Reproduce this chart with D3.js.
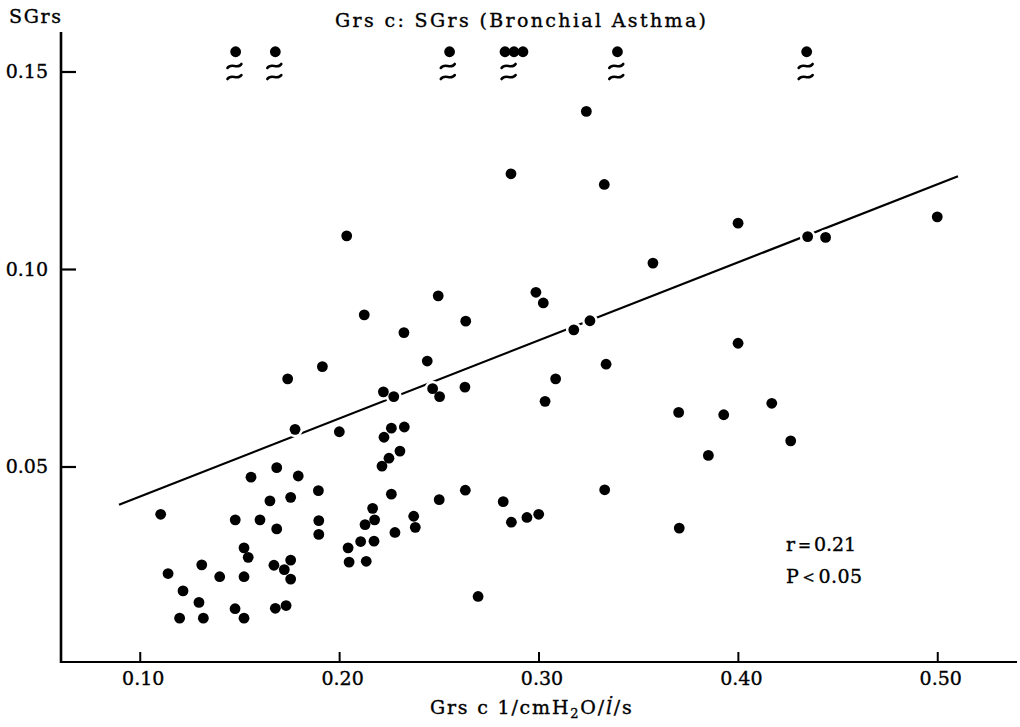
<!DOCTYPE html>
<html>
<head>
<meta charset="utf-8">
<script src="https://cdn.jsdelivr.net/npm/d3@7"></script>
<style>
  body { margin: 0; background: #fff; }
  svg text { font-family: "DejaVu Serif", serif; fill: #000; stroke: #000; stroke-width: 0.35px; }
</style>
</head>
<body>
<div id="chart"></div>
<script>
// Grs c (x) against SGrs (y), bronchial asthma
const grsc = [0.1105, 0.1142, 0.1217, 0.1200, 0.1297, 0.1311, 0.1319, 0.1401, 0.1479, 0.1478,
  0.1523, 0.1544, 0.1523, 0.1523, 0.1558, 0.1603, 0.1653, 0.1687, 0.1687, 0.1673,
  0.1680, 0.1734, 0.1725, 0.1757, 0.1757, 0.1757, 0.1795, 0.1779, 0.1742, 0.1916,
  0.2038, 0.2126, 0.2325, 0.2442, 0.2497, 0.2001, 0.1896, 0.1898, 0.1898, 0.2222,
  0.2274, 0.2262, 0.2327, 0.2225, 0.2305, 0.2250, 0.2215, 0.2262, 0.2168, 0.2178,
  0.2130, 0.2374, 0.2382, 0.2280, 0.2108, 0.2175, 0.2045, 0.2050, 0.2136, 0.2469,
  0.2504, 0.2631, 0.2502, 0.2633, 0.2697, 0.2823, 0.2864, 0.2942, 0.3001, 0.2635,
  0.2987, 0.3024, 0.3177, 0.3258, 0.3240, 0.2862, 0.3330, 0.3574, 0.3339, 0.3086,
  0.3033, 0.3332, 0.3706, 0.3703, 0.3929, 0.4170, 0.4265, 0.3852, 0.4001, 0.4001,
  0.4350, 0.4440, 0.5000];
const sgrs = [0.0379, 0.0229, 0.0185, 0.0116, 0.0156, 0.0251, 0.0116, 0.0221, 0.0365, 0.0140,
  0.0294, 0.0270, 0.0221, 0.0116, 0.0473, 0.0365, 0.0413, 0.0497, 0.0342, 0.0250,
  0.0141, 0.0148, 0.0239, 0.0263, 0.0215, 0.0422, 0.0476, 0.0594, 0.0722, 0.0753,
  0.1084, 0.0884, 0.0839, 0.0767, 0.0932, 0.0588, 0.0439, 0.0363, 0.0328, 0.0689,
  0.0677, 0.0597, 0.0600, 0.0574, 0.0539, 0.0521, 0.0501, 0.0430, 0.0394, 0.0365,
  0.0353, 0.0374, 0.0346, 0.0333, 0.0310, 0.0311, 0.0294, 0.0258, 0.0260, 0.0697,
  0.0677, 0.0701, 0.0416, 0.0440, 0.0171, 0.0411, 0.0359, 0.0371, 0.0379, 0.0868,
  0.0941, 0.0914, 0.0846, 0.0869, 0.1399, 0.1241, 0.1214, 0.1015, 0.0759, 0.0722,
  0.0665, 0.0441, 0.0344, 0.0637, 0.0631, 0.0660, 0.0565, 0.0528, 0.0812, 0.1116,
  0.1082, 0.1080, 0.1132];

// points above 0.15 (plotted on top of the break marks)
const offscaleX = [0.1481, 0.1680, 0.2554, 0.2832, 0.2877, 0.2922, 0.3396, 0.4345];
const breakX = [0.1475, 0.1675, 0.2545, 0.2850, 0.3390, 0.4340];

// regression line ends
const fitX = [0.0896, 0.5104];
const fitY = [0.0403, 0.1235];

const xTicks = [0.10, 0.20, 0.30, 0.40, 0.50];
const yTicks = [0.05, 0.10, 0.15];

const chartTitle = "Grs c: SGrs (Bronchial Asthma)";
const yTitle = "SGrs";
const statLines = ["r\uFF1D0.21", "P\uFF1C0.05"];

class ScatterChart {
  constructor(_config) {
    this.config = {
      parentElement: _config.parentElement,
      containerWidth: _config.containerWidth,
      containerHeight: _config.containerHeight,
      axisY: 662,
      dotRadius: 5.4
    };
    this.initVis();
  }

  initVis() {
    let vis = this;

    vis.svg = d3.select(vis.config.parentElement)
      .append("svg")
      .attr("width", vis.config.containerWidth)
      .attr("height", vis.config.containerHeight);

    vis.x = d3.scaleLinear().domain([0.06, 0.54]).range([60, 1017]);
    vis.y = d3.scaleLinear().domain([0, 0.16]).range([664, 32]);

    // axis lines
    vis.svg.append("line")
      .attr("x1", vis.x(0.06) + 1).attr("x2", vis.x(0.06) + 1)
      .attr("y1", vis.y(0.16)).attr("y2", vis.config.axisY + 1)
      .attr("stroke", "#000").attr("stroke-width", 2.6);
    vis.svg.append("line")
      .attr("x1", vis.x(0.06)).attr("x2", vis.x(0.54))
      .attr("y1", vis.config.axisY).attr("y2", vis.config.axisY)
      .attr("stroke", "#000").attr("stroke-width", 2.2);

    const xAxis = d3.axisBottom(vis.x)
      .tickValues(xTicks)
      .tickFormat(d3.format(".2f"))
      .tickSize(-10)
      .tickPadding(10);
    const gx = vis.svg.append("g")
      .attr("transform", `translate(0,${vis.config.axisY})`)
      .call(xAxis);
    gx.select(".domain").remove();
    gx.selectAll(".tick line").attr("stroke", "#000").attr("stroke-width", 2);
    gx.selectAll(".tick text")
      .attr("dx", 3)
      .attr("font-size", 19)
      .attr("font-family", "DejaVu Serif")
      .attr("fill", "#000");

    const yAxis = d3.axisLeft(vis.y)
      .tickValues(yTicks)
      .tickFormat(d3.format(".2f"))
      .tickSize(-15)
      .tickPadding(13);
    const gy = vis.svg.append("g")
      .attr("transform", `translate(${vis.x(0.06) + 1},0)`)
      .call(yAxis);
    gy.select(".domain").remove();
    gy.selectAll(".tick line").attr("stroke", "#000").attr("stroke-width", 2.2);
    gy.selectAll(".tick text")
      .attr("font-size", 19)
      .attr("font-family", "DejaVu Serif")
      .attr("fill", "#000");

    // titles
    vis.svg.append("text")
      .attr("x", 335).attr("y", 27)
      .attr("font-size", 19)
      .attr("textLength", 371).attr("lengthAdjust", "spacing")
      .text(chartTitle);

    vis.svg.append("text")
      .attr("x", 9).attr("y", 23)
      .attr("font-size", 19)
      .attr("textLength", 52).attr("lengthAdjust", "spacing")
      .text(yTitle);

    const xt = vis.svg.append("text")
      .attr("x", 430).attr("y", 714)
      .attr("font-size", 19)
      .attr("letter-spacing", 1.8);
    xt.append("tspan").text("Grs c 1/cmH");
    xt.append("tspan").attr("font-size", 13).attr("dy", 4).text("2");
    xt.append("tspan").attr("dy", -4).text("O/");
    xt.append("tspan").attr("font-style", "italic").text("l\u0307");
    xt.append("tspan").text("/s");

    vis.svg.selectAll(".stat")
      .data(statLines)
      .join("text")
      .attr("class", "stat")
      .attr("x", 786)
      .attr("y", (d, i) => 551 + i * 32)
      .attr("font-size", 19)
      .attr("textLength", (d, i) => (i === 0 ? 70 : 76))
      .attr("lengthAdjust", "spacing")
      .text(d => d);

    // regression line
    vis.svg.append("path")
      .datum(fitX.map((d, i) => [d, fitY[i]]))
      .attr("d", d3.line().x(d => vis.x(d[0])).y(d => vis.y(d[1])))
      .attr("fill", "none")
      .attr("stroke", "#000")
      .attr("stroke-width", 2.2);

    const pts = grsc.map((d, i) => ({ x: d, y: sgrs[i] }));

    // white halos cut the line where dots sit on it
    vis.svg.append("g")
      .selectAll("circle")
      .data(pts)
      .join("circle")
      .attr("cx", d => vis.x(d.x))
      .attr("cy", d => vis.y(d.y))
      .attr("r", vis.config.dotRadius + 2.5)
      .attr("fill", "#fff");

    vis.svg.append("g")
      .selectAll("circle")
      .data(pts)
      .join("circle")
      .attr("cx", d => vis.x(d.x))
      .attr("cy", d => vis.y(d.y))
      .attr("r", vis.config.dotRadius)
      .attr("fill", "#000");

    // off-scale points with break marks
    vis.svg.append("g")
      .selectAll("circle")
      .data(offscaleX)
      .join("circle")
      .attr("cx", d => vis.x(d))
      .attr("cy", vis.y(0.155))
      .attr("r", vis.config.dotRadius)
      .attr("fill", "#000");

    const wave = "M-7,2 C-3,-4 3,4 7,-2";
    const breaks = vis.svg.append("g")
      .selectAll("g")
      .data(breakX)
      .join("g")
      .attr("transform", d => `translate(${vis.x(d)},0)`);
    [0.1514, 0.1486].forEach(v => {
      breaks.append("path")
        .attr("d", wave)
        .attr("transform", `translate(0,${vis.y(v)})`)
        .attr("fill", "none")
        .attr("stroke", "#000")
        .attr("stroke-width", 2.6)
        .attr("stroke-linecap", "round");
    });
  }
}

new ScatterChart({
  parentElement: "#chart",
  containerWidth: 1020,
  containerHeight: 727
});
</script>
</body>
</html>
